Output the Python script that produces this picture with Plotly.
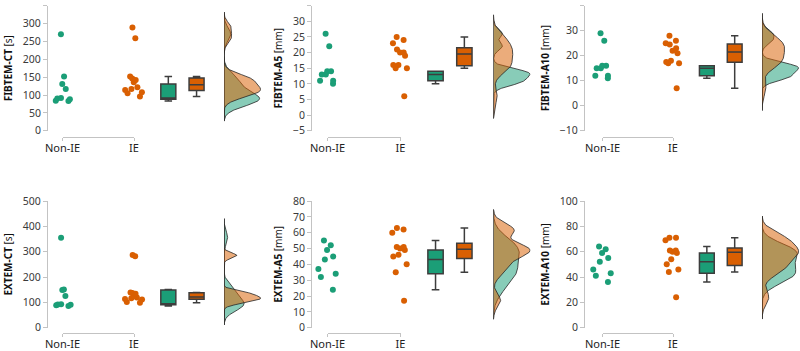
import numpy as np
import plotly.graph_objects as go

# ---------------- data ----------------
CATEGORIES = ["Non-IE", "IE"]
MEASURES = ["FIBTEM-CT", "FIBTEM-A5", "FIBTEM-A10", "EXTEM-CT", "EXTEM-A5", "EXTEM-A10"]
UNITS = ["[s]", "[mm]", "[mm]", "[s]", "[mm]", "[mm]"]

FIBTEM_CT_NON_IE = [83, 84, 88, 90, 92, 117, 131, 152, 270]
FIBTEM_CT_IE = [96, 105, 108, 114, 117, 122, 136, 142, 146, 152, 259, 289]
FIBTEM_A5_NON_IE = [10, 11, 11, 13, 13, 14, 14, 22, 26]
FIBTEM_A5_IE = [6, 15, 15, 16, 16, 19, 20, 20, 21, 23, 24, 25]
FIBTEM_A10_NON_IE = [11, 12, 12, 15, 15, 16, 16, 26, 29]
FIBTEM_A10_IE = [7, 17, 17, 17.5, 18, 21, 22, 23, 24.5, 25, 26, 28]
EXTEM_CT_NON_IE = [86, 89, 91, 92, 93, 125, 149, 151, 355]
EXTEM_CT_IE = [98, 101, 111, 113, 116, 119, 124, 134, 137, 139, 282, 287]
EXTEM_A5_NON_IE = [24, 32, 34, 37, 43, 45, 49, 52, 55]
EXTEM_A5_IE = [17, 35, 40, 45, 46, 49, 50, 51, 51, 60, 62, 63]
EXTEM_A10_NON_IE = [36, 41, 43, 46, 52, 55, 59, 62, 64]
EXTEM_A10_IE = [24, 44, 46, 50, 54, 59, 60, 61, 61, 69, 71, 71]

NON_IE = [FIBTEM_CT_NON_IE, FIBTEM_A5_NON_IE, FIBTEM_A10_NON_IE,
          EXTEM_CT_NON_IE, EXTEM_A5_NON_IE, EXTEM_A10_NON_IE]
IE = [FIBTEM_CT_IE, FIBTEM_A5_IE, FIBTEM_A10_IE,
      EXTEM_CT_IE, EXTEM_A5_IE, EXTEM_A10_IE]

Y_RANGES = [(0, 350), (-5, 35), (-10, 40), (0, 500), (0, 80), (0, 100)]
Y_DTICKS = [50, 5, 10, 100, 10, 20]

# ---------------- styling / layout ----------------
W, H = 800, 351
GREEN, ORANGE = "#1b9e77", "#d95f02"
GREEN_FILL, ORANGE_FILL = "rgba(27,158,119,0.52)", "rgba(217,95,2,0.52)"
AXIS_GRAY = "#c3c3c3"
FONT = "Noto Sans"

COLS = [dict(L=48, nonie=62.5, ppu=71.5, dens=224),
        dict(L=312, nonie=327.5, ppu=73.0, dens=493.5),
        dict(L=585, nonie=602.5, ppu=70.5, dens=762)]
ROWS = [dict(top=5.6, bot=130.8, bracket=137.0),
        dict(top=201.0, bot=327.7, bracket=333.0)]
X_MAX = 2.05
BOX_POS = [1.48, 1.875]
BOX_W = 0.21
STRIP_W = 0.32
DENS_W = 37


def box_stats(v):
    a = np.asarray(v, float)
    q1, med, q3 = np.percentile(a, [25, 50, 75])
    iqr = q3 - q1
    lo = a[a >= q1 - 1.5 * iqr].min()
    hi = a[a <= q3 + 1.5 * iqr].max()
    return q1, med, q3, lo, hi


def bw_nrd0(v):
    a = np.asarray(v, float)
    q1, q3 = np.percentile(a, [25, 75])
    s = min(a.std(ddof=1), (q3 - q1) / 1.34)
    return 0.9 * s * len(a) ** -0.2


def kde(v, grid):
    a = np.asarray(v, float)
    bw = bw_nrd0(a)
    z = (grid[:, None] - a[None, :]) / bw
    return np.exp(-0.5 * z ** 2).sum(axis=1) / (len(a) * bw * np.sqrt(2 * np.pi))


fig = go.Figure()
layout = {}

for i in range(6):
    col = COLS[i % 3]
    row = ROWS[i // 3]
    xm, xb, xd = 3 * i + 1, 3 * i + 2, 3 * i + 3
    ym = i + 1
    xm_ref = "x" if xm == 1 else f"x{xm}"
    xb_ref, xd_ref = f"x{xb}", f"x{xd}"
    y_ref = "y" if ym == 1 else f"y{ym}"
    groups = [NON_IE[i], IE[i]]
    colors = [GREEN, ORANGE]
    fills = [GREEN_FILL, ORANGE_FILL]

    # dummy trace so the category (bracket) axis is drawn
    fig.add_trace(go.Scatter(x=[0, 1], y=[None, None], xaxis=xb_ref, yaxis=y_ref,
                             mode="markers", showlegend=False, hoverinfo="skip"))

    # jittered raw points (library jitter, invisible boxes)
    for k, (vals, c) in enumerate(zip(groups, colors)):
        fig.add_trace(go.Box(
            y=vals, x0=k, xaxis=xm_ref, yaxis=y_ref, width=STRIP_W,
            boxpoints="all", jitter=1.0, pointpos=0,
            fillcolor="rgba(0,0,0,0)", line=dict(width=0, color="rgba(0,0,0,0)"),
            marker=dict(color=c, size=6, line=dict(width=0)),
            showlegend=False, hoverinfo="skip"))

    # box plots
    for k, (vals, c) in enumerate(zip(groups, colors)):
        q1, med, q3, lo, hi = box_stats(vals)
        fig.add_trace(go.Box(
            x=[BOX_POS[k]], q1=[q1], median=[med], q3=[q3],
            lowerfence=[lo], upperfence=[hi],
            xaxis=xm_ref, yaxis=y_ref, width=BOX_W, whiskerwidth=0.5,
            boxpoints=False, fillcolor=c,
            line=dict(color="#3d3d3d", width=1.5),
            showlegend=False, hoverinfo="skip"))

    # densities
    lo_g = min(min(g) - 3 * bw_nrd0(g) for g in groups)
    hi_g = max(max(g) + 3 * bw_nrd0(g) for g in groups)
    grid = np.linspace(lo_g, hi_g, 400)
    dens = [kde(g, grid) for g in groups]
    dmax = max(d.max() for d in dens)
    for d, f in zip(dens, fills):
        fig.add_trace(go.Scatter(
            x=np.concatenate([[0], d, [0, 0]]),
            y=np.concatenate([[grid[0]], grid, [grid[-1], grid[0]]]),
            xaxis=xd_ref, yaxis=y_ref, mode="lines", fill="toself",
            fillcolor=f, line=dict(color="rgba(40,40,40,0.9)", width=0.9),
            showlegend=False, hoverinfo="skip"))

    r0 = -(col["nonie"] - col["L"]) / col["ppu"]
    right = col["L"] + (X_MAX - r0) * col["ppu"]
    ydom = [1 - row["bot"] / H, 1 - row["top"] / H]

    layout["xaxis" if xm == 1 else f"xaxis{xm}"] = dict(
        domain=[col["L"] / W, right / W], range=[r0, X_MAX], visible=False,
        anchor=y_ref, automargin=False)
    layout[f"xaxis{xb}"] = dict(
        domain=[col["nonie"] / W, (col["nonie"] + col["ppu"]) / W], range=[0, 1],
        anchor="free", position=1 - row["bracket"] / H, automargin=False,
        tickmode="array", tickvals=[0, 1], ticktext=CATEGORIES,
        showline=True, linecolor=AXIS_GRAY, linewidth=1,
        ticks="outside", ticklen=3, tickcolor=AXIS_GRAY, ticklabelstandoff=-2,
        showgrid=False, zeroline=False,
        tickfont=dict(family=FONT, size=11, color="#222222"))
    layout[f"xaxis{xd}"] = dict(
        domain=[col["dens"] / W, (col["dens"] + DENS_W) / W], range=[0, dmax * 1.01],
        visible=False, anchor=y_ref, automargin=False)
    layout["yaxis" if ym == 1 else f"yaxis{ym}"] = dict(
        domain=ydom, range=list(Y_RANGES[i]), anchor=xm_ref, automargin=False,
        tick0=Y_RANGES[i][0], dtick=Y_DTICKS[i],
        showline=True, linecolor=AXIS_GRAY, linewidth=1,
        ticks="outside", ticklen=4, tickcolor=AXIS_GRAY,
        showgrid=False, zeroline=False,
        tickfont=dict(family=FONT, size=10.5, color="#3a3a3a"),
        title=dict(text=f"<b>{MEASURES[i]}</b> {UNITS[i]}", standoff=8,
                   font=dict(family=FONT, size=10, color="#111111")))

fig.update_layout(
    width=W, height=H, autosize=False,
    margin=dict(l=0, r=0, t=0, b=0, pad=0, autoexpand=False),
    paper_bgcolor="white", plot_bgcolor="rgba(0,0,0,0)",
    boxmode="overlay", showlegend=False,
    font=dict(family=FONT, size=11, color="#333333"),
    **layout)

fig.write_html("out.html",
               config={"displayModeBar": False, "staticPlot": True},
               post_script="document.body.style.margin='0';"
                           "document.body.style.overflow='hidden';")
